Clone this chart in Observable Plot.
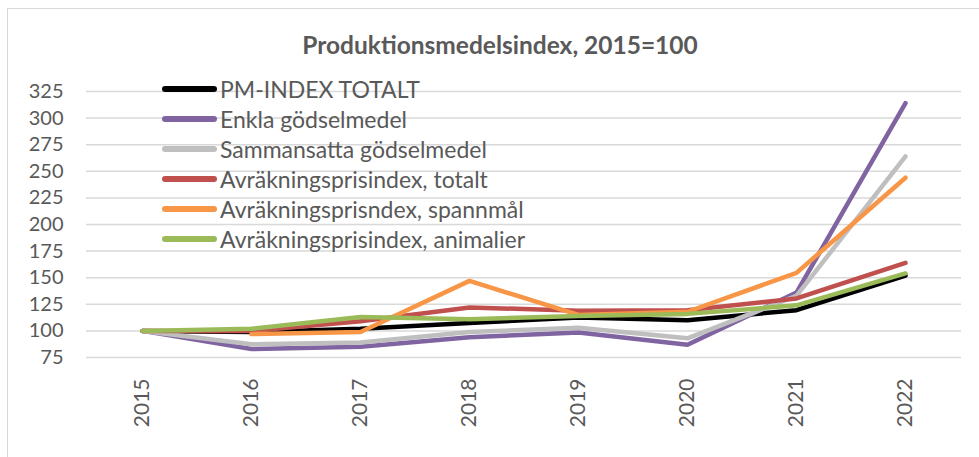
<!DOCTYPE html>
<html>
<head>
<meta charset="utf-8">
<script src="https://cdn.jsdelivr.net/npm/d3@7"></script>
<script src="https://cdn.jsdelivr.net/npm/@observablehq/plot@0.6"></script>
<style>
  body { margin: 0; background: #fff; font-family: Lato, "Liberation Sans", Arial, sans-serif; }
  #wrap { position: relative; width: 979px; height: 457px; overflow: hidden; }
  #border { position: absolute; left: 7px; top: 8px; width: 990px; height: 460px; border-left: 1.5px solid #d9d9d9; border-top: 1.5px solid #d9d9d9; }
  #title { position: absolute; left: 0; width: 1000px; top: 31px; text-align: center; font-weight: bold; font-size: 24.5px; color: #595959; line-height: 28px; }
  #legend { position: absolute; left: 162px; top: 74px; }
  .row { height: 30px; display: flex; align-items: center; }
  .sw { width: 55px; height: 6px; border-radius: 3px; margin-right: 3px; }
  .lb { font-size: 23px; color: #595959; white-space: nowrap; }
  #chart svg { position: absolute; left: 0; top: 0; }
</style>
</head>
<body>
<div id="wrap">
  <div id="chart"></div>
  <div id="border"></div>
  <div id="title"></div>
  <div id="legend"></div>
</div>
<script>
const title = "Produktionsmedelsindex, 2015=100";
const years = ["2015", "2016", "2017", "2018", "2019", "2020", "2021", "2022"];
const seriesNames = [
  "PM-INDEX TOTALT",
  "Enkla gödselmedel",
  "Sammansatta gödselmedel",
  "Avräkningsprisindex, totalt",
  "Avräkningsprisndex, spannmål",
  "Avräkningsprisindex, animalier"
];
const seriesColors = ["#000000", "#8064A2", "#BFBFBF", "#C0504D", "#F79646", "#9BBB59"];
const pmTotal     = [100, 99, 102, 107.5, 112.5, 110, 119.5, 152];
const enkla       = [100, 83, 85, 94, 98.5, 87, 136, 314];
const sammansatta = [100, 87.5, 89, 99, 103, 93, 133, 264];
const avrTotal    = [100, 100, 109, 122, 119, 119.5, 130.5, 164];
const spannmal    = [null, 97, 99, 147, 115, 118, 154.5, 244];
const animalier   = [100, 102, 113, 111, 114, 116, 124, 154];
const yTicks = [75, 100, 125, 150, 175, 200, 225, 250, 275, 300, 325];

const seriesValues = [pmTotal, enkla, sammansatta, avrTotal, spannmal, animalier];
const rows = [];
seriesValues.forEach((vals, si) => {
  vals.forEach((v, i) => {
    if (v != null) rows.push({series: seriesNames[si], year: years[i], value: v});
  });
});

const fontFamily = 'Lato, "Liberation Sans", Arial, sans-serif';
const chart = Plot.plot({
  width: 979,
  height: 457,
  marginLeft: 86,
  marginRight: 18,
  marginTop: 91,
  marginBottom: 100,
  style: {fontFamily, background: "transparent"},
  x: {type: "point", domain: years, padding: 0.5},
  y: {domain: [75, 325]},
  color: {domain: seriesNames, range: seriesColors},
  marks: [
    Plot.ruleY(yTicks, {stroke: "#d9d9d9", strokeWidth: 1.5}),
    Plot.axisY({ticks: yTicks, tickSize: 0, tickPadding: 23, fontSize: 20, fill: "#595959", label: null}),
    Plot.axisX({tickSize: 0, tickRotate: -90, textAnchor: "end", lineAnchor: "middle", tickPadding: 21, fontSize: 21, fill: "#595959", label: null}),
    ...seriesNames.map(name => Plot.line(rows.filter(d => d.series === name), {
      x: "year", y: "value", stroke: "series", strokeWidth: 4.5,
      strokeLinecap: "round", strokeLinejoin: "round"
    }))
  ]
});
document.getElementById("chart").appendChild(chart);
document.getElementById("title").textContent = title;

const legend = document.getElementById("legend");
seriesNames.forEach((name, i) => {
  const r = document.createElement("div");
  r.className = "row";
  const sw = document.createElement("div");
  sw.className = "sw";
  sw.style.background = seriesColors[i];
  const lb = document.createElement("div");
  lb.className = "lb";
  lb.textContent = name;
  r.appendChild(sw); r.appendChild(lb);
  legend.appendChild(r);
});
</script>
</body>
</html>
